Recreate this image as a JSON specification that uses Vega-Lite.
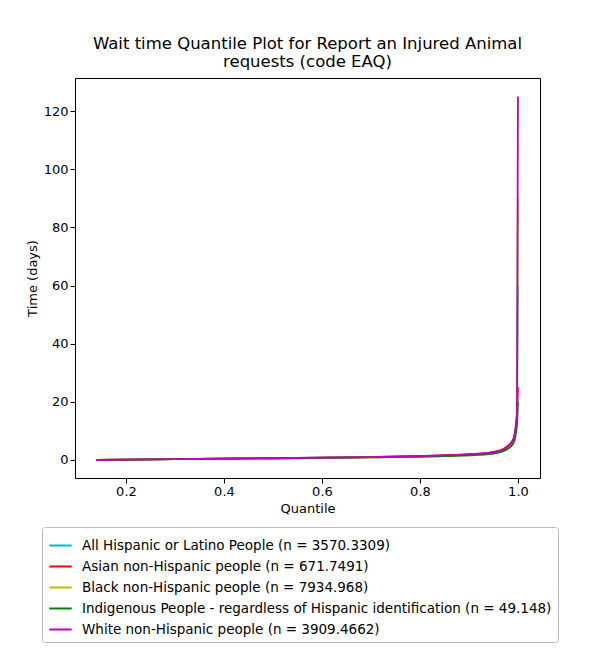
{
  "$schema": "https://vega.github.io/schema/vega-lite/v6.json",
  "width": 465,
  "height": 400,
  "autosize": "none",
  "padding": {"left": 75, "top": 78, "right": 60, "bottom": 172},
  "title": {
    "text": ["Wait time Quantile Plot for Report an Injured Animal", "requests (code EAQ)"],
    "font": "DejaVu Sans", "fontSize": 16.5, "fontWeight": "normal", "color": "black",
    "anchor": "middle", "offset": 8, "lineHeight": 18
  },
  "data": {
    "values": [
      {"s": "All Hispanic or Latino People (n = 3570.3309)", "o": 0, "q": 0.14, "t": 0},
      {"s": "All Hispanic or Latino People (n = 3570.3309)", "o": 0, "q": 0.3, "t": 0.3},
      {"s": "All Hispanic or Latino People (n = 3570.3309)", "o": 0, "q": 0.5, "t": 0.6},
      {"s": "All Hispanic or Latino People (n = 3570.3309)", "o": 0, "q": 0.7, "t": 1.0},
      {"s": "All Hispanic or Latino People (n = 3570.3309)", "o": 0, "q": 0.9, "t": 1.8},
      {"s": "All Hispanic or Latino People (n = 3570.3309)", "o": 0, "q": 0.95, "t": 2.6},
      {"s": "All Hispanic or Latino People (n = 3570.3309)", "o": 0, "q": 0.97, "t": 3.5},
      {"s": "All Hispanic or Latino People (n = 3570.3309)", "o": 0, "q": 0.99, "t": 6.5},
      {"s": "All Hispanic or Latino People (n = 3570.3309)", "o": 0, "q": 0.998, "t": 15},
      {"s": "All Hispanic or Latino People (n = 3570.3309)", "o": 0, "q": 1.0, "t": 60},
      {"s": "Asian non-Hispanic people (n = 671.7491)", "o": 1, "q": 0.14, "t": 0},
      {"s": "Asian non-Hispanic people (n = 671.7491)", "o": 1, "q": 0.3, "t": 0.3},
      {"s": "Asian non-Hispanic people (n = 671.7491)", "o": 1, "q": 0.5, "t": 0.6},
      {"s": "Asian non-Hispanic people (n = 671.7491)", "o": 1, "q": 0.7, "t": 1.0},
      {"s": "Asian non-Hispanic people (n = 671.7491)", "o": 1, "q": 0.9, "t": 2.0},
      {"s": "Asian non-Hispanic people (n = 671.7491)", "o": 1, "q": 0.95, "t": 2.8},
      {"s": "Asian non-Hispanic people (n = 671.7491)", "o": 1, "q": 0.97, "t": 3.8},
      {"s": "Asian non-Hispanic people (n = 671.7491)", "o": 1, "q": 0.99, "t": 7},
      {"s": "Asian non-Hispanic people (n = 671.7491)", "o": 1, "q": 0.998, "t": 16},
      {"s": "Asian non-Hispanic people (n = 671.7491)", "o": 1, "q": 1.0, "t": 25},
      {"s": "Black non-Hispanic people (n = 7934.968)", "o": 2, "q": 0.14, "t": 0},
      {"s": "Black non-Hispanic people (n = 7934.968)", "o": 2, "q": 0.3, "t": 0.3},
      {"s": "Black non-Hispanic people (n = 7934.968)", "o": 2, "q": 0.5, "t": 0.6},
      {"s": "Black non-Hispanic people (n = 7934.968)", "o": 2, "q": 0.7, "t": 0.9},
      {"s": "Black non-Hispanic people (n = 7934.968)", "o": 2, "q": 0.9, "t": 1.7},
      {"s": "Black non-Hispanic people (n = 7934.968)", "o": 2, "q": 0.95, "t": 2.4},
      {"s": "Black non-Hispanic people (n = 7934.968)", "o": 2, "q": 0.97, "t": 3.2},
      {"s": "Black non-Hispanic people (n = 7934.968)", "o": 2, "q": 0.99, "t": 6},
      {"s": "Black non-Hispanic people (n = 7934.968)", "o": 2, "q": 0.998, "t": 14},
      {"s": "Black non-Hispanic people (n = 7934.968)", "o": 2, "q": 1.0, "t": 90},
      {"s": "Indigenous People - regardless of Hispanic identification (n = 49.148)", "o": 3, "q": 0.14, "t": 0},
      {"s": "Indigenous People - regardless of Hispanic identification (n = 49.148)", "o": 3, "q": 0.3, "t": 0.3},
      {"s": "Indigenous People - regardless of Hispanic identification (n = 49.148)", "o": 3, "q": 0.5, "t": 0.6},
      {"s": "Indigenous People - regardless of Hispanic identification (n = 49.148)", "o": 3, "q": 0.7, "t": 0.9},
      {"s": "Indigenous People - regardless of Hispanic identification (n = 49.148)", "o": 3, "q": 0.9, "t": 1.6},
      {"s": "Indigenous People - regardless of Hispanic identification (n = 49.148)", "o": 3, "q": 0.95, "t": 2.2},
      {"s": "Indigenous People - regardless of Hispanic identification (n = 49.148)", "o": 3, "q": 0.97, "t": 3.0},
      {"s": "Indigenous People - regardless of Hispanic identification (n = 49.148)", "o": 3, "q": 0.99, "t": 5.5},
      {"s": "Indigenous People - regardless of Hispanic identification (n = 49.148)", "o": 3, "q": 0.998, "t": 12},
      {"s": "Indigenous People - regardless of Hispanic identification (n = 49.148)", "o": 3, "q": 1.0, "t": 20},
      {"s": "White non-Hispanic people (n = 3909.4662)", "o": 4, "q": 0.14, "t": 0},
      {"s": "White non-Hispanic people (n = 3909.4662)", "o": 4, "q": 0.3, "t": 0.3},
      {"s": "White non-Hispanic people (n = 3909.4662)", "o": 4, "q": 0.5, "t": 0.6},
      {"s": "White non-Hispanic people (n = 3909.4662)", "o": 4, "q": 0.7, "t": 1.0},
      {"s": "White non-Hispanic people (n = 3909.4662)", "o": 4, "q": 0.9, "t": 1.9},
      {"s": "White non-Hispanic people (n = 3909.4662)", "o": 4, "q": 0.95, "t": 2.7},
      {"s": "White non-Hispanic people (n = 3909.4662)", "o": 4, "q": 0.97, "t": 3.6},
      {"s": "White non-Hispanic people (n = 3909.4662)", "o": 4, "q": 0.99, "t": 6.8},
      {"s": "White non-Hispanic people (n = 3909.4662)", "o": 4, "q": 0.998, "t": 16},
      {"s": "White non-Hispanic people (n = 3909.4662)", "o": 4, "q": 1.0, "t": 125}
    ]
  },
  "mark": {"type": "line", "strokeWidth": 1.8, "clip": true, "interpolate": "monotone"},
  "encoding": {
    "x": {
      "field": "q", "type": "quantitative", "title": "Quantile",
      "scale": {"domain": [0.096, 1.045], "nice": false, "zero": false},
      "axis": {"values": [0.2, 0.4, 0.6, 0.8, 1.0], "format": ".1f", "grid": false}
    },
    "y": {
      "field": "t", "type": "quantitative", "title": "Time (days)",
      "scale": {"domain": [-6.2, 131.4], "nice": false, "zero": false},
      "axis": {"values": [0, 20, 40, 60, 80, 100, 120], "grid": false}
    },
    "color": {
      "field": "s", "type": "nominal", "title": null,
      "sort": {"field": "o"},
      "scale": {
        "domain": [
          "All Hispanic or Latino People (n = 3570.3309)",
          "Asian non-Hispanic people (n = 671.7491)",
          "Black non-Hispanic people (n = 7934.968)",
          "Indigenous People - regardless of Hispanic identification (n = 49.148)",
          "White non-Hispanic people (n = 3909.4662)"
        ],
        "range": ["#00bfbf", "#ff0000", "#bfbf00", "#008000", "#bf00bf"]
      },
      "legend": {
        "orient": "none", "legendX": -33, "legendY": 449, "direction": "vertical",
        "symbolType": "stroke", "symbolSize": 500, "symbolStrokeWidth": 2,
        "labelFontSize": 13.5, "labelFont": "DejaVu Sans", "labelColor": "black", "labelLimit": 600,
        "labelOffset": 9, "rowPadding": 2, "padding": 6, "strokeColor": "#bbbbbb", "fillColor": "white",
        "cornerRadius": 3
      }
    },
    "order": {"field": "o"}
  },
  "config": {
    "view": {"stroke": "black"},
    "axis": {
      "labelFont": "DejaVu Sans", "titleFont": "DejaVu Sans", "labelFontSize": 13,
      "titleFontSize": 13, "titleFontWeight": "normal", "labelColor": "black",
      "titleColor": "black", "domainColor": "black", "tickColor": "black"
    }
  }
}
